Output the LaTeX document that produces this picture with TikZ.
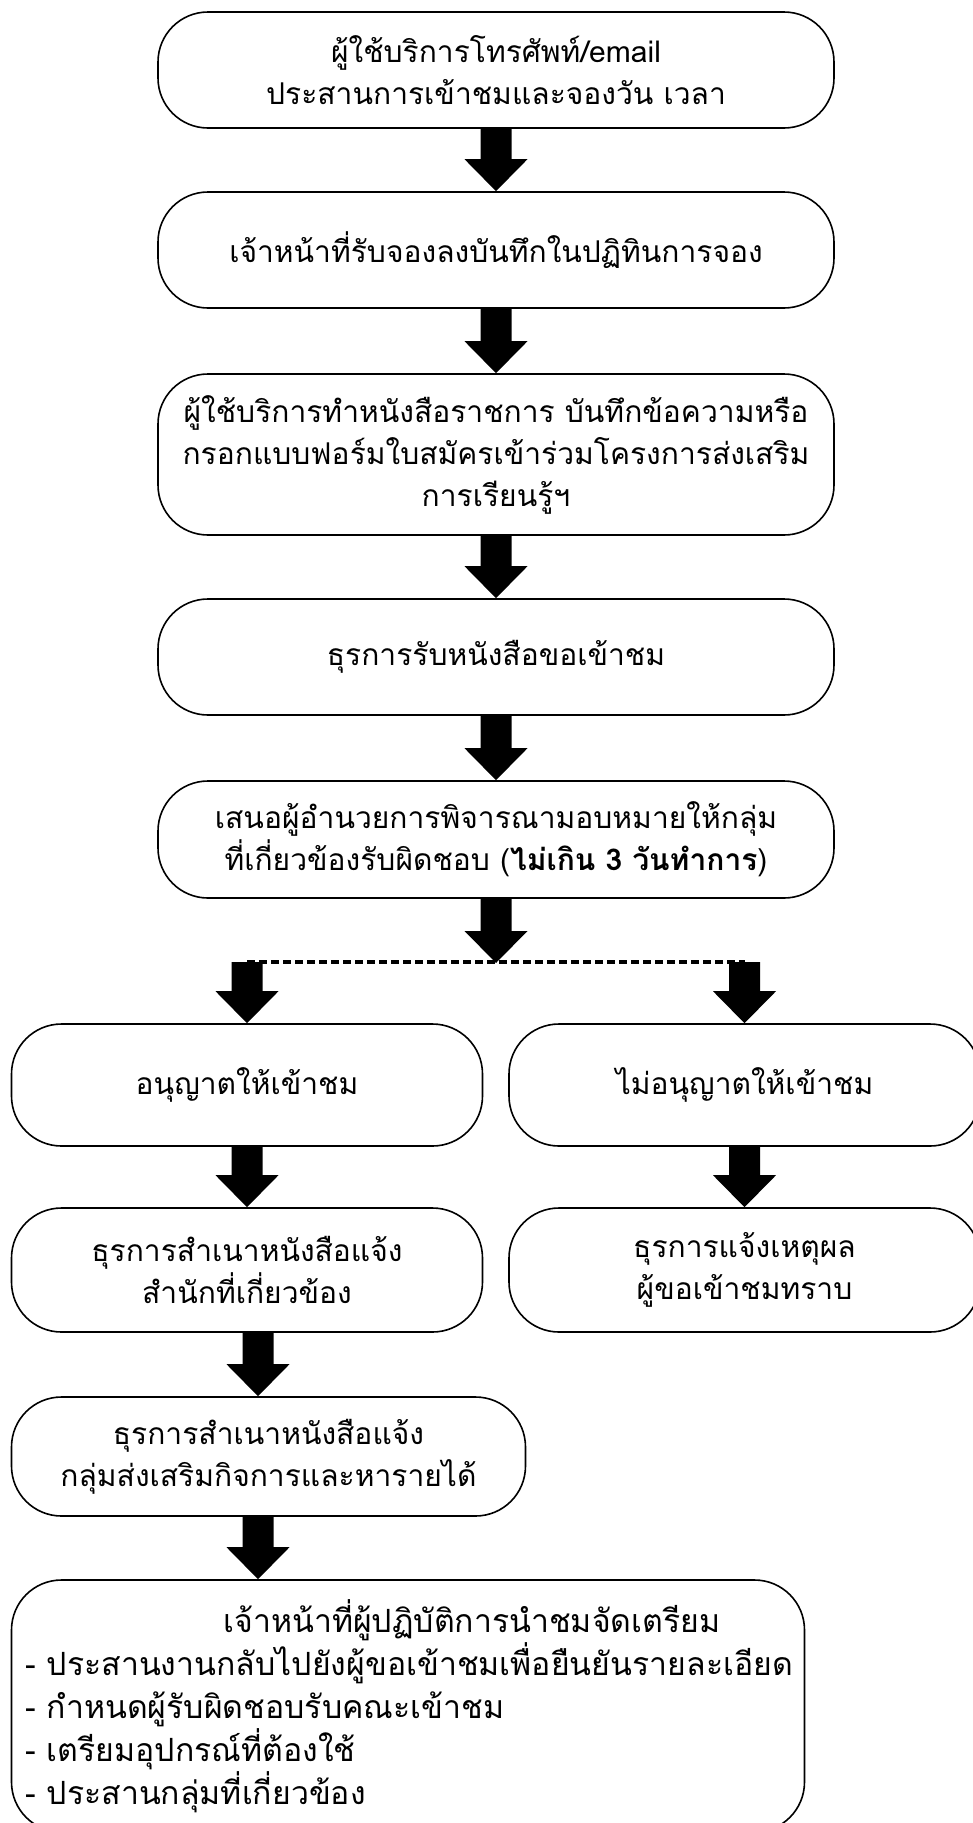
\documentclass[tikz,border=0pt]{standalone}
\usepackage{fontspec}
\newfontfamily\thaifont[Script=Thai]{Loma}
\usetikzlibrary{calc}
\tikzset{
  box/.style={draw, line width=1.6pt, rounded corners=50pt, align=center, inner sep=0pt,
    font=\thaifont\fontsize{30}{42}\selectfont},
  dashline/.style={line width=4pt, dash pattern=on 8pt off 4pt},
}
\newcommand\blockarrow[2]{%
  \fill ($(#1)+(-15.5,0)$) -- ($(#2)+(-15.5,-32)$) -- ($(#2)+(-31.5,-32)$) -- (#2)
     -- ($(#2)+(31.5,-32)$) -- ($(#2)+(15.5,-32)$) -- ($(#1)+(15.5,0)$) -- cycle;}
\begin{document}
\begin{tikzpicture}[x=1pt,y=-1pt]
\useasboundingbox[fill=white] (0,0) rectangle (972,1823);
\node[box, minimum width=676, minimum height=116] (b1) at (496,70)
  {ผู้ใช้บริการโทรศัพท์/email\\ประสานการเข้าชมและจองวัน เวลา};
\node[box, minimum width=676, minimum height=116] (b2) at (496,250)
  {เจ้าหน้าที่รับจองลงบันทึกในปฏิทินการจอง};
\node[box, minimum width=676, minimum height=161] (b3) at (496,454.5)
  {ผู้ใช้บริการทำหนังสือราชการ บันทึกข้อความหรือ\\กรอกแบบฟอร์มใบสมัครเข้าร่วมโครงการส่งเสริม\\การเรียนรู้ฯ};
\node[box, minimum width=676, minimum height=116] (b4) at (496,657)
  {ธุรการรับหนังสือขอเข้าชม};
\node[box, minimum width=676, minimum height=117] (b5) at (496,839.5)
  {เสนอผู้อำนวยการพิจารณามอบหมายให้กลุ่ม\\ที่เกี่ยวข้องรับผิดชอบ (\textbf{ไม่เกิน 3 วันทำการ})};
\node[box, minimum width=471, minimum height=122] (b6) at (247,1085)
  {อนุญาตให้เข้าชม};
\node[box, minimum width=471, minimum height=122] (b7) at (744.5,1085)
  {ไม่อนุญาตให้เข้าชม};
\node[box, minimum width=471, minimum height=124] (b8) at (247,1270)
  {ธุรการสำเนาหนังสือแจ้ง\\สำนักที่เกี่ยวข้อง};
\node[box, minimum width=471, minimum height=124] (b9) at (744.5,1270)
  {ธุรการแจ้งเหตุผล\\ผู้ขอเข้าชมทราบ};
\node[box, minimum width=514, minimum height=119] (b10) at (268.5,1456.5)
  {ธุรการสำเนาหนังสือแจ้ง\\กลุ่มส่งเสริมกิจการและหารายได้};
\node[box, minimum height=252, inner xsep=14pt, text width=765pt, align=left,
      font=\thaifont\fontsize{32}{43}\selectfont] (b11) at (408,1706)
  {\hspace*{198pt}เจ้าหน้าที่ผู้ปฏิบัติการนำชมจัดเตรียม\\
   - ประสานงานกลับไปยังผู้ขอเข้าชมเพื่อยืนยันรายละเอียด\\
   - กำหนดผู้รับผิดชอบรับคณะเข้าชม\\
   - เตรียมอุปกรณ์ที่ต้องใช้\\
   - ประสานกลุ่มที่เกี่ยวข้อง};
\coordinate (split) at (496,963);
\coordinate (sl) at (247,962);
\coordinate (sr) at (744.5,962);
\coordinate (lc) at (258,0);
\draw[dashline] (sl) -- (sr);
\blockarrow{b1.south}{b2.north}
\blockarrow{b2.south}{b3.north}
\blockarrow{b3.south}{b4.north}
\blockarrow{b4.south}{b5.north}
\blockarrow{b5.south}{split}
\blockarrow{sl}{b6.north}
\blockarrow{sr}{b7.north}
\blockarrow{b6.south}{b8.north}
\blockarrow{b7.south}{b9.north}
\blockarrow{b8.south -| lc}{b10.north -| lc}
\blockarrow{b10.south -| lc}{b11.north -| lc}
\end{tikzpicture}
\end{document}
